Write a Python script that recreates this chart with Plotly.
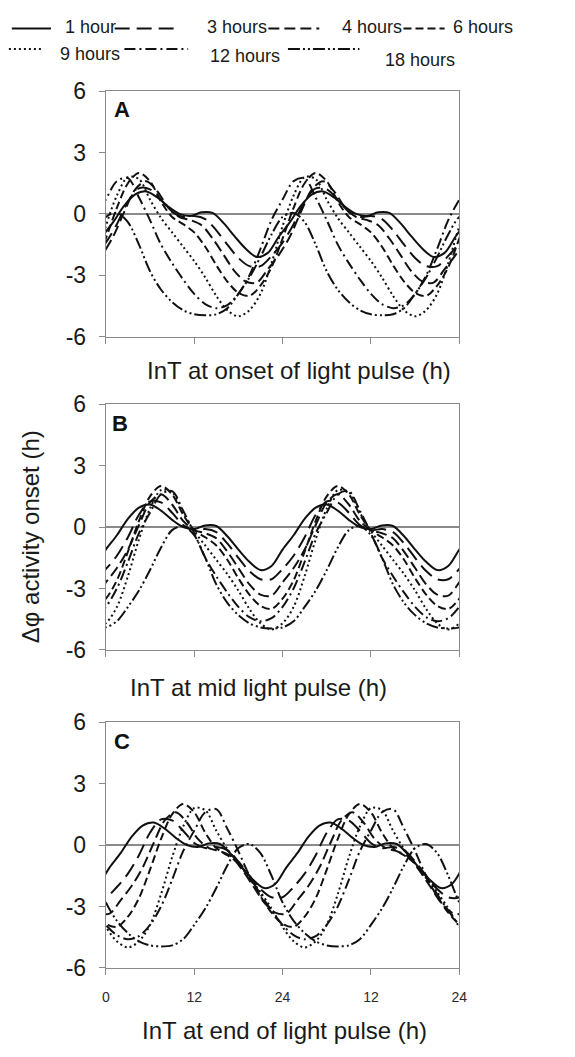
import plotly.graph_objects as go

# ---------------- data ----------------
# Phase response (h) vs internal time at the MIDPOINT of the light pulse (panel B),
# one value every 1.5 h over one 24 h cycle; the chart is double plotted.
TIME_H = [0, 1.5, 3, 4.5, 6, 7.5, 9, 10.5, 12, 13.5, 15, 16.5, 18, 19.5, 21, 22.5]

DURATIONS = [1, 3, 4, 6, 9, 12, 18]
LABELS = ["1 hour", "3 hours", "4 hours", "6 hours", "9 hours", "12 hours", "18 hours"]

PRC_1H = [-1.1, -0.4, 0.4, 0.95, 1.1, 0.8, 0.35, 0.0, -0.1, 0.08, 0.05, -0.45, -1.1, -1.7, -2.1, -1.9]
PRC_3H = [-2.05, -1.4, -0.5, 0.6, 1.25, 1.2, 0.7, 0.1, -0.15, -0.1, -0.25, -0.8, -1.5, -2.15, -2.55, -2.55]
PRC_4H = [-2.7, -2.0, -1.1, 0.1, 1.2, 1.6, 1.1, 0.3, -0.15, -0.3, -0.55, -1.2, -2.0, -2.8, -3.3, -3.35]
PRC_6H = [-3.5, -2.6, -1.2, 0.3, 1.5, 2.0, 1.6, 0.6, -0.15, -0.5, -0.9, -1.6, -2.5, -3.3, -3.85, -4.0]
PRC_9H = [-4.7, -3.9, -2.4, -0.6, 0.9, 1.8, 1.7, 0.7, -0.2, -0.9, -1.6, -2.3, -3.1, -4.0, -4.7, -5.0]
PRC_12H = [-3.9, -3.0, -1.7, -0.3, 0.7, 1.6, 1.75, 0.8, -0.3, -1.5, -2.4, -3.2, -3.9, -4.4, -4.6, -4.45]
PRC_18H = [-4.9, -4.6, -3.9, -3.1, -2.1, -1.0, -0.15, 0.05, -0.4, -1.5, -2.8, -3.7, -4.3, -4.7, -4.9, -4.95]
SERIES = [PRC_1H, PRC_3H, PRC_4H, PRC_6H, PRC_9H, PRC_12H, PRC_18H]

# reference point of the pulse for each panel, as a fraction of duration relative to mid-pulse
PANEL_REF = [-0.5, 0.0, 0.5]
PANEL_LETTERS = ["A", "B", "C"]
PANEL_TITLES = ["InT at onset of light pulse (h)",
                "InT at mid light pulse (h)",
                "InT at end of light pulse (h)"]

X_TICKS = [0, 12, 24, 36, 48]
X_TICK_TEXT = ["0", "12", "24", "12", "24"]
Y_TICKS = [-6, -3, 0, 3, 6]
Y_TICK_TEXT = ["-6", "-3", "0", "3", "6"]
Y_TITLE = "Δφ activity onset (h)"

# ---------------- styling ----------------
W, H = 575, 1057
DASHES = ["solid", "15px,7px", "11px,5px", "8px,4px", "2px,3px",
          "11px,4px,2px,4px", "12px,3px,2px,3px,2px,3px"]
LINE_W = 2.0
INK = "#111111"
AXIS_GRAY = "#8a8a8a"
FONT = "Liberation Sans, Arial, sans-serif"

def px_x(x):
    return x / W

def px_y(y):
    return 1 - y / H

X_DOM = [px_x(104), px_x(465)]
Y_DOMS = [[px_y(332), px_y(80)], [px_y(653), px_y(401)], [px_y(979), px_y(727)]]

fig = go.Figure()

for p in range(3):
    xa = "x" if p == 0 else f"x{p + 1}"
    ya = "y" if p == 0 else f"y{p + 1}"
    for d, vals, dash in zip(DURATIONS, SERIES, DASHES):
        shift = PANEL_REF[p] * d
        xs, ys = [], []
        for k in (-1, 0, 1, 2):
            for t, v in zip(TIME_H, vals):
                xs.append(t + 24 * k + shift)
                ys.append(v)
        fig.add_trace(go.Scatter(
            x=xs, y=ys, mode="lines", xaxis=xa, yaxis=ya, showlegend=False,
            line=dict(color=INK, width=LINE_W, dash=dash, shape="spline", smoothing=0.9),
            hoverinfo="skip"))

layout = dict(
    width=W, height=H, margin=dict(l=0, r=0, t=0, b=0),
    paper_bgcolor="white", plot_bgcolor="white",
    font=dict(family=FONT, color="#1a1a1a"),
)
for p in range(3):
    xkey = "xaxis" if p == 0 else f"xaxis{p + 1}"
    ykey = "yaxis" if p == 0 else f"yaxis{p + 1}"
    layout[xkey] = dict(
        domain=X_DOM, range=[0, 48], anchor="y" if p == 0 else f"y{p + 1}",
        tickvals=X_TICKS, ticktext=X_TICK_TEXT, showticklabels=(p == 2),
        ticks="outside", ticklen=6, tickwidth=1.2, tickcolor=AXIS_GRAY,
        showline=True, linecolor=AXIS_GRAY, linewidth=1.3, mirror=True,
        showgrid=False, zeroline=False, ticklabelstandoff=10,
        tickfont=dict(size=14, color="#2a2a2a"),
    )
    layout[ykey] = dict(
        domain=Y_DOMS[p], range=[-6, 6], anchor="x" if p == 0 else f"x{p + 1}",
        tickvals=Y_TICKS, ticktext=Y_TICK_TEXT, ticks="outside", ticklen=6, tickwidth=1.2,
        tickcolor=AXIS_GRAY,
        showline=True, linecolor=AXIS_GRAY, linewidth=1.3, mirror=True,
        showgrid=False, zeroline=True, zerolinecolor=AXIS_GRAY, zerolinewidth=1.5,
        ticklabelstandoff=8, tickfont=dict(size=23, color="#1a1a1a"),
    )
fig.update_layout(**layout)

annotations = []
TITLE_POS = [(301, 367), (260, 692), (286, 1043)]
LETTER_POS = [(121, 99), (118, 421), (121, 747)]
for p in range(3):
    tx, ty = TITLE_POS[p]
    annotations.append(dict(text=PANEL_TITLES[p], x=px_x(tx), y=px_y(ty), xref="paper", yref="paper",
                            showarrow=False, xanchor="center", yanchor="middle",
                            font=dict(size=24, color="#1a1a1a")))
    lx, ly = LETTER_POS[p]
    annotations.append(dict(text=f"<b>{PANEL_LETTERS[p]}</b>", x=px_x(lx), y=px_y(ly), xref="paper", yref="paper",
                            showarrow=False, xanchor="center", yanchor="middle",
                            font=dict(size=22, color="#111111")))
annotations.append(dict(text=Y_TITLE, x=px_x(27), y=px_y(537), xref="paper", yref="paper",
                        showarrow=False, textangle=-90, xanchor="center", yanchor="middle",
                        font=dict(size=24, color="#1a1a1a")))

# legend (sample line + label), laid out as in the reference
LEG_SAMPLE = [(8, 48, 16), (113, 175, 16), (270, 322, 16), (408, 450, 16),
              (5, 40, 37), (123, 188, 37), (290, 363, 37)]
LEG_TEXT = [(60, 14), (205, 14), (343, 14), (457, 14), (55, 42), (208, 44), (387, 48)]
shapes = []
for i, lab in enumerate(LABELS):
    x0, x1, yy = LEG_SAMPLE[i]
    shapes.append(dict(type="line", xref="paper", yref="paper", x0=px_x(x0), x1=px_x(x1),
                       y0=px_y(yy), y1=px_y(yy),
                       line=dict(color=INK, width=LINE_W, dash=DASHES[i])))
    tx, ty = LEG_TEXT[i]
    annotations.append(dict(text=lab, x=px_x(tx), y=px_y(ty), xref="paper", yref="paper",
                            showarrow=False, xanchor="left", yanchor="middle",
                            font=dict(size=18, color="#1a1a1a")))

fig.update_layout(annotations=annotations, shapes=shapes)
fig.write_html("out.html")
